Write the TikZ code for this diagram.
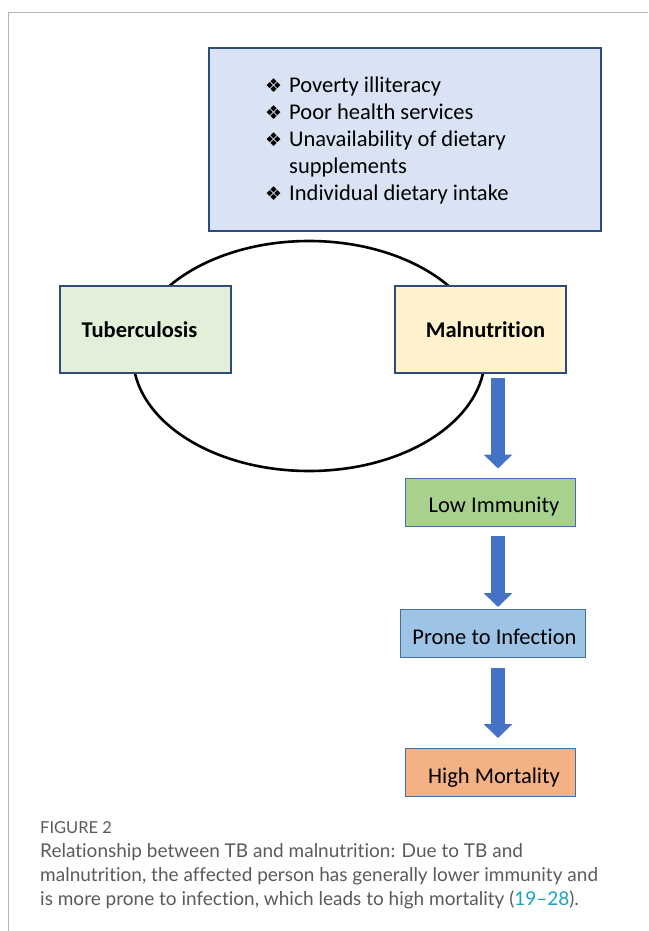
\documentclass[tikz,border=0pt]{standalone}
\usepackage{fontspec}
\setmainfont[Ligatures=NoCommon]{Carlito}
\newfontfamily\capfont[Ligatures=NoCommon]{Lato}
\newfontfamily\symfont{DejaVu Sans}
\usetikzlibrary{arrows.meta,calc}
\definecolor{frameg}{HTML}{B4B4B4}
\definecolor{boxblue}{HTML}{DAE3F3}
\definecolor{edgeblue}{HTML}{2F4B7C}
\definecolor{tbgreen}{HTML}{E2F0D9}
\definecolor{malyel}{HTML}{FFF2CC}
\definecolor{lowgreen}{HTML}{A9D18E}
\definecolor{pronblue}{HTML}{9DC3E6}
\definecolor{highor}{HTML}{F4B183}
\definecolor{arrowblue}{HTML}{4472C4}
\definecolor{lowedge}{HTML}{41719C}
\definecolor{capgray}{HTML}{5A5A5A}
\definecolor{linkteal}{HTML}{1AA3C0}
\newcommand{\dia}{{\symfont\fontsize{19}{19}\selectfont ❖}}
\newcommand{\lowered}[1]{\raisebox{-3pt}[\height][0pt]{#1}}
\tikzset{
  mainbox/.style={draw=edgeblue, line width=2.6pt, minimum width=171pt, minimum height=87pt, font=\bfseries\fontsize{22.5}{27}\selectfont},
  flowbox/.style={draw=lowedge, line width=1pt, minimum height=48pt, font=\fontsize{22.5}{27}\selectfont},
  blockarrow/.style={draw=arrowblue, line width=14pt, -{Triangle[width=28pt,length=14pt]}}
}
\begin{document}
\begin{tikzpicture}[x=1pt,y=-1pt]
\useasboundingbox (0,0) rectangle (648,931);
% frame
\draw[frameg, line width=1pt] (648,13) -- (8,13) -- (8,931);
% factors box
\node[draw=edgeblue, line width=1.2pt, fill=boxblue, minimum width=392pt, minimum height=183pt, inner sep=0pt] (factors) at (405,139.5) {};
\node[anchor=north west, inner sep=0pt, align=left] (list) at (265,73.5) {\fontsize{22.5}{27}\selectfont
\begin{tabular}{@{}l@{\hspace{7pt}}l@{}}
\dia & Poverty illiteracy\\
\dia & Poor health services\\
\dia & Unavailability of dietary\\
 & supplements\\
\dia & Individual dietary intake
\end{tabular}};
% cycle ellipse
\draw[black, line width=2.6pt] (309,356) ellipse [x radius=176, y radius=115];
% main boxes
\node[mainbox, fill=tbgreen] (tb) at (145.5,329.5) {\hspace{-12pt}Tuberculosis};
\node[mainbox, fill=malyel] (mal) at (480.5,329.5) {\hspace{10pt}Malnutrition};
% flow boxes
\node[flowbox, fill=lowgreen, minimum width=170pt] (low) at (490,502) {\hspace{8pt}\lowered{Low Immunity}};
\node[flowbox, fill=pronblue, minimum width=185pt] (prone) at (492.5,633.5) {\hspace{4pt}\lowered{Prone to Infection}};
\node[flowbox, fill=highor, minimum width=170pt] (high) at (490,772.5) {\hspace{8pt}\lowered{High Mortality}};
% arrows
\coordinate (ax) at (498,0);
\draw[blockarrow, shorten <=4pt, shorten >=9pt] (ax |- mal.south) -- (ax |- low.north);
\draw[blockarrow, shorten <=9pt, shorten >=2pt] (ax |- low.south) -- (ax |- prone.north);
\draw[blockarrow, shorten <=10pt, shorten >=10pt] (ax |- prone.south) -- (ax |- high.north);
% caption
\node[anchor=base west, inner sep=0pt, text=capgray, font=\capfont\fontsize{16.5}{20}\selectfont] (figlabel) at (40,833) {FIGURE 2};
\node[anchor=north west, inner sep=0pt, text=capgray, align=left, font=\capfont\fontsize{19}{24}\selectfont] (caption) at (40,843) {Relationship between TB and malnutrition: Due to TB and\\malnutrition, the affected person has generally lower immunity and\\is more prone to infection, which leads to high mortality (\textcolor{linkteal}{19–28}).};
\end{tikzpicture}
\end{document}
